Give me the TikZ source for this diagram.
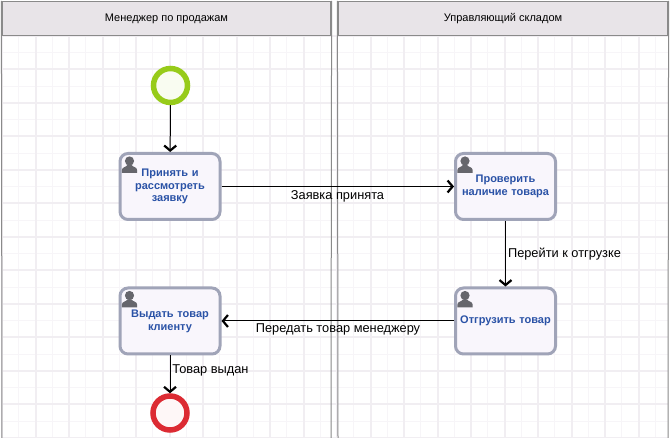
\documentclass[tikz,border=0pt]{standalone}
\usepackage{fontspec}
\setmainfont{Liberation Sans}
\usetikzlibrary{arrows.meta}
\definecolor{lanegray}{HTML}{8A8A8A}
\definecolor{headfill}{HTML}{E8E4E8}
\definecolor{gridmajor}{HTML}{F1EEF2}
\definecolor{gridminor}{HTML}{F7F5F8}
\definecolor{taskedge}{HTML}{A0A4B8}
\definecolor{taskfill}{HTML}{F9F6FC}
\definecolor{taskblue}{HTML}{2A52A6}
\definecolor{startgreen}{HTML}{97CB1A}
\definecolor{endred}{HTML}{DC2B33}
\definecolor{icongray}{HTML}{66666C}
\tikzset{
    lanehead/.style={draw=lanegray, fill=headfill, line width=1.2pt, minimum height=34pt, font=\fontsize{11}{12}\selectfont},
    task/.style={draw=taskedge, fill=taskfill, line width=3pt, rounded corners=8pt, minimum width=100pt, minimum height=66pt, inner sep=2pt, text width=92pt, align=center, text=taskblue, font=\fontsize{11}{12.8}\selectfont\bfseries},
    startev/.style={circle, draw=startgreen, fill=startgreen!6, line width=5.5pt, minimum size=34pt, inner sep=0pt},
    endev/.style={circle, draw=endred, fill=endred!4, line width=5.5pt, minimum size=34pt, inner sep=0pt},
    flow/.style={-{Straight Barb[length=5pt, width=12pt, line width=2.2pt]}, line width=1pt, black},
    flowlabel/.style={inner sep=0pt, font=\fontsize{12.8}{14}\selectfont},
    person/.pic={
        \fill[icongray] (0,-4) circle (4.6);
        \fill[icongray] (-7.6,8) -- (-7.6,5) .. controls (-7.6,2) and (-3,2) .. (-2,0) -- (2,0) .. controls (3,2) and (7.6,2) .. (7.6,5) -- (7.6,8) -- cycle;
    }
}
\begin{document}
\begin{tikzpicture}[x=1pt, y=-1pt]
    \useasboundingbox (0,0) rectangle (670,438);
    \fill[white] (0,0) rectangle (670,438);

    % Grid
    \begin{scope}[shift={(2,36)}]
        \draw[gridminor, line width=1pt, step=16.75pt] (0,0) grid (666,402);
        \draw[gridmajor, line width=2pt, step=33.5pt] (0,0) grid (666,402);
    \end{scope}

    % Lanes
    \node[lanehead, minimum width=329pt] (salesHead) at (166.5,18.5) {Менеджер по продажам};
    \node[lanehead, minimum width=330pt] (stockHead) at (503,18.5) {Управляющий складом};
    \coordinate (salesLeft) at (2,438);
    \coordinate (salesEdge) at (331,438);
    \coordinate (stockEdge) at (338,438);
    \coordinate (stockRight) at (668,438);
    \draw[lanegray, line width=1pt] (salesHead.north west) -- (salesLeft);
    \draw[lanegray, line width=1pt] (salesHead.north east) -- (salesEdge);
    \draw[lanegray, line width=1pt] (stockHead.north west) -- (stockEdge);
    \draw[lanegray, line width=1pt] (stockHead.north east) -- (stockRight);

    % Events
    \node[startev] (start) at (170.5,85.5) {};
    \node[endev] (finish) at (170,413) {};

    % Tasks
    \node[task] (accept) at (170,186.5) {Принять и\\рассмотреть\\заявку};
    \node[task] (check) at (505.5,186.5) {Проверить\\наличие товара};
    \node[task] (ship) at (505.5,321) {Отгрузить товар};
    \node[task] (issue) at (170,321) {Выдать товар\\клиенту};
    \pic at ([shift={(11,13)}]accept.north west) {person};
    \pic at ([shift={(11,13)}]check.north west) {person};
    \pic at ([shift={(11,13)}]ship.north west) {person};
    \pic at ([shift={(11,13)}]issue.north west) {person};

    % Flows
    \draw[flow] (start) -- (accept);
    \draw[flow] (accept) -- (check);
    \draw[flow] (check) -- (ship);
    \draw[flow] (ship) -- (issue);
    \draw[flow] (issue) -- (finish);

    % Flow labels
    \node[flowlabel] (acceptedLabel) at (337.5,196) {Заявка принята};
    \node[flowlabel] (shipLabel) at (564.5,254) {Перейти к отгрузке};
    \node[flowlabel] (handLabel) at (338,329.5) {Передать товар менеджеру};
    \node[flowlabel] (issuedLabel) at (210.5,370) {Товар выдан};
\end{tikzpicture}
\end{document}
